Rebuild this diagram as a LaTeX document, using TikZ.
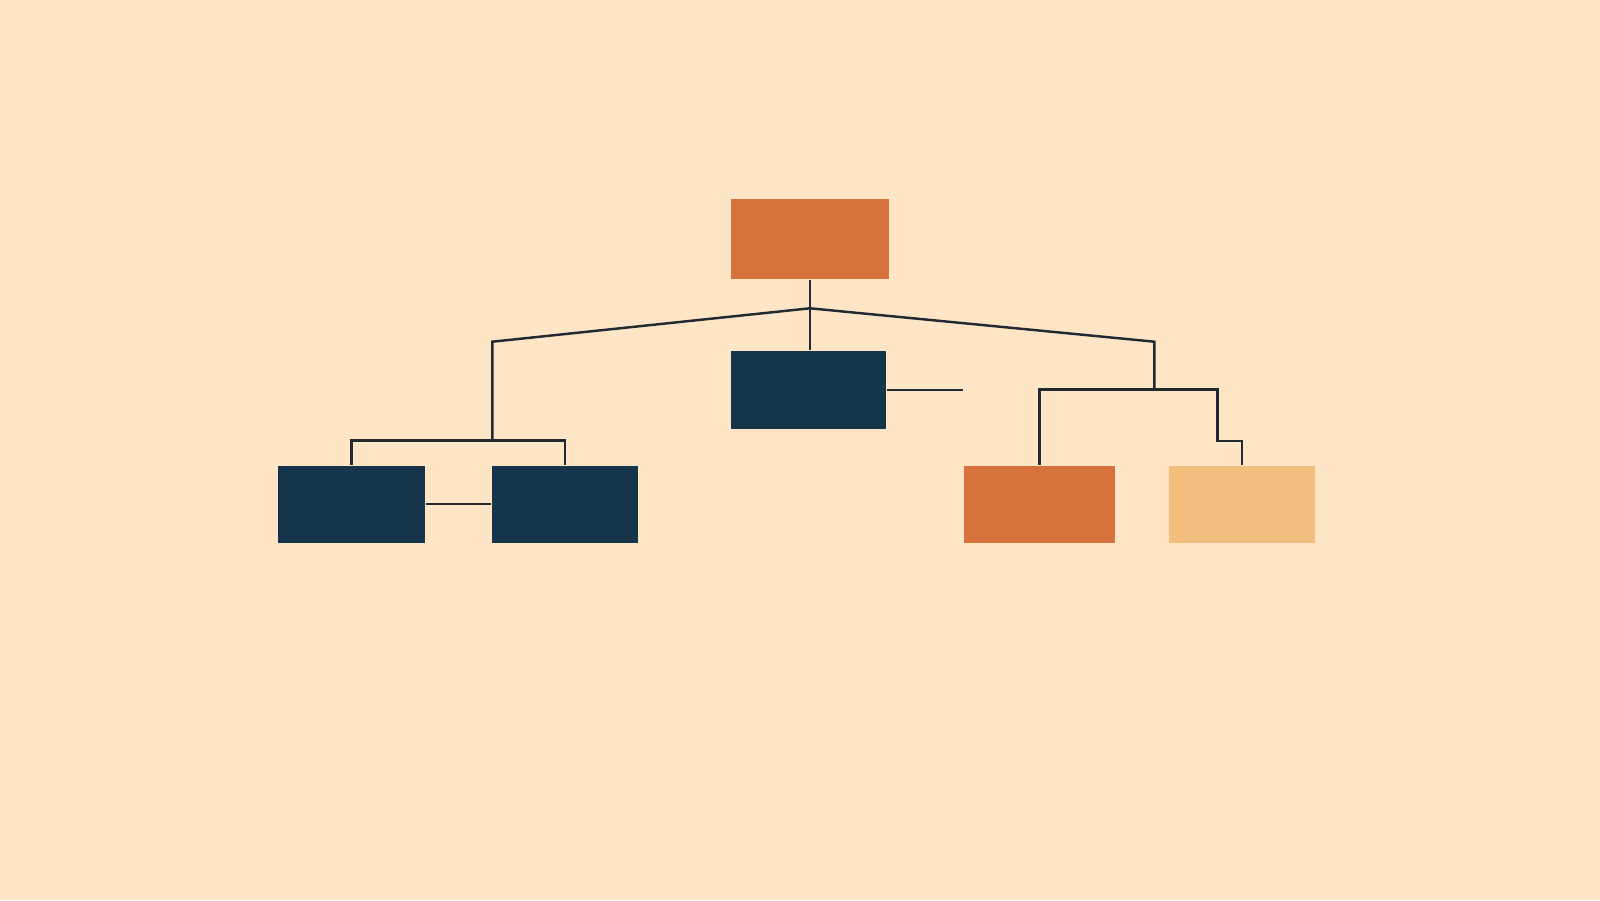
\documentclass[tikz,border=0pt]{standalone}
\usetikzlibrary{positioning}
\definecolor{paper}{RGB}{253,229,198}
\definecolor{rust}{RGB}{216,114,60}
\definecolor{navy}{RGB}{22,53,75}
\definecolor{sand}{RGB}{243,190,126}
\definecolor{ink}{RGB}{32,42,48}
\tikzset{
	box/.style={rectangle, inner sep=0pt, minimum height=0.77cm},
	link/.style={draw=ink, line width=0.7pt}
}

\begin{document}
\begin{tikzpicture}
		%%%%% START %%%%%
		
		\fill[paper] (0, 0) rectangle (16, 9);
		
		\node[box, fill=rust, minimum width=1.58cm, minimum height=0.80cm] (top) at (8.10, 6.61) {};
		\node[box, fill=navy, minimum width=1.55cm, minimum height=0.78cm] (mid) at (8.085, 5.10) {};
		
		\node[box, fill=navy, minimum width=1.47cm] (left1) at (3.515, 3.96) {};
		\node[box, fill=navy, minimum width=1.46cm] (left2) at (5.65, 3.96) {};
		\node[box, fill=rust, minimum width=1.51cm] (right1) at (10.395, 3.96) {};
		\node[box, fill=sand, minimum width=1.46cm] (right2) at (12.42, 3.96) {};
		
		\coordinate (fork) at (top.south |- 0, 5.917);
		\coordinate (lcorner) at (4.923, 5.583);
		\coordinate (rcorner) at (11.543, 5.583);
		\coordinate (lsplit) at (4.923, 4.593);
		\coordinate (rsplit) at (11.543, 5.107);
		\coordinate (rstep) at (12.177, 4.59);
		\coordinate (stub) at (9.633, 5.10);
		
		\draw[link] (top.south) -- (top.south |- mid.north);
		\draw[link] (lsplit) -- (lcorner) -- (fork) -- (rcorner) -- (rsplit);
		\draw[link] (mid.east) -- (stub);
		
		\draw[link] (left1.north) |- (lsplit) -| (left2.north);
		\draw[link] (left1.east) -- (left2.west);
		
		\draw[link] (right1.north) |- (rsplit) -| (rstep) -| (right2.north);
		
		%%%%% END %%%%%
	\end{tikzpicture}
\end{document}
